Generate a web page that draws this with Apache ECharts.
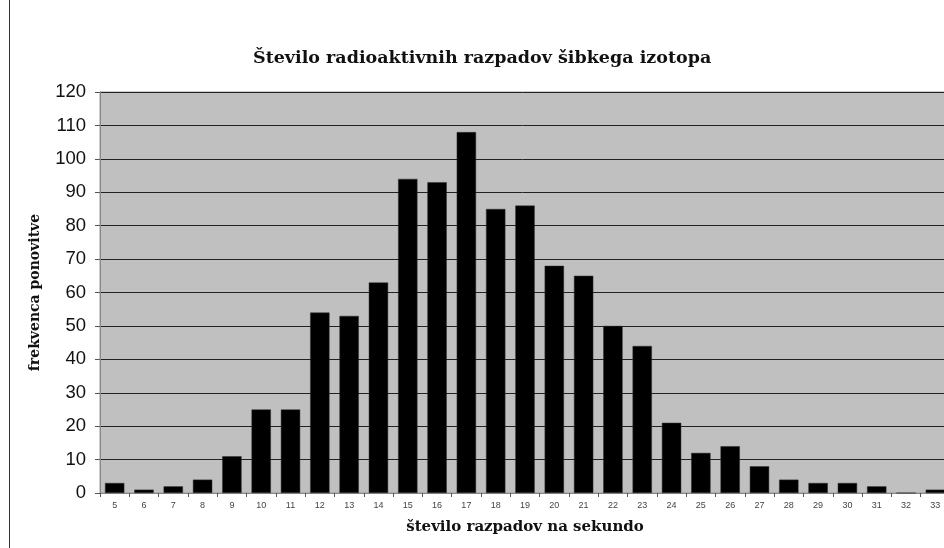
<!DOCTYPE html>
<html>
<head>
<meta charset="utf-8">
<script src="https://cdn.jsdelivr.net/npm/echarts@6/dist/echarts.min.js"></script>
<style>
    html, body { margin: 0; padding: 0; background: #fff; }
    #chart { width: 944px; height: 548px; }
</style>
</head>
<body>
<div id="chart"></div>
<script>
// podatki
const categories = ['5', '6', '7', '8', '9', '10', '11', '12', '13', '14', '15', '16', '17', '18', '19',
    '20', '21', '22', '23', '24', '25', '26', '27', '28', '29', '30', '31', '32', '33'];
const frequencies = [3, 1, 2, 4, 11, 25, 25, 54, 53, 63, 94, 93, 108, 85, 86,
    68, 65, 50, 44, 21, 12, 14, 8, 4, 3, 3, 2, 0, 1];
const yTicks = { min: 0, max: 120, interval: 10 };

const serif = 'DejaVu Serif';

const myChart = echarts.init(document.getElementById('chart'));

const option = {
    animation: false,
    backgroundColor: '#fff',
    title: {
        text: 'Število radioaktivnih razpadov šibkega izotopa',
        left: 248,
        top: 44,
        textStyle: {
            fontFamily: serif,
            fontWeight: 'bold',
            fontSize: 17.5,
            color: '#111',
        },
    },
    graphic: [
        {
            type: 'line',
            shape: { x1: 9.5, y1: 0, x2: 9.5, y2: 548 },
            style: { stroke: '#333', lineWidth: 1 },
        },
    ],
    grid: {
        left: 100,
        right: -6,
        top: 92,
        bottom: 55,
        outerBoundsMode: 'none',
        containLabel: false,
        show: true,
        backgroundColor: '#c0c0c0',
        borderColor: '#999',
        borderWidth: 1,
    },
    xAxis: {
        type: 'category',
        data: categories,
        name: 'število razpadov na sekundo',
        nameLocation: 'middle',
        nameGap: 27,
        nameTextStyle: {
            fontFamily: serif,
            fontWeight: 'bold',
            fontSize: 15,
            color: '#111',
        },
        axisLine: { lineStyle: { color: '#888' } },
        axisTick: { show: true, length: 4, lineStyle: { color: '#555' } },
        axisLabel: {
            fontFamily: 'Arial, Liberation Sans',
            fontSize: 9,
            color: '#444',
            margin: 8,
            interval: 0,
        },
    },
    yAxis: {
        type: 'value',
        min: yTicks.min,
        max: yTicks.max,
        interval: yTicks.interval,
        name: 'frekvenca ponovitve',
        nameLocation: 'middle',
        nameGap: 58,
        nameRotate: 90,
        nameTextStyle: {
            fontFamily: serif,
            fontWeight: 'bold',
            fontSize: 14,
            color: '#111',
        },
        axisLine: { show: true, lineStyle: { color: '#888' } },
        axisTick: { show: true, length: 5, lineStyle: { color: '#555' } },
        axisLabel: {
            fontFamily: 'Liberation Sans, Arial',
            fontSize: 18.5,
            color: '#111',
            margin: 14,
        },
        splitLine: { show: true, lineStyle: { color: '#222', width: 1 } },
    },
    series: [
        {
            type: 'bar',
            data: frequencies,
            barCategoryGap: '34%',
            itemStyle: {
                color: '#000',
                borderColor: '#333',
                borderWidth: 0.5,
            },
        },
    ],
};

myChart.setOption(option);
</script>
</body>
</html>
